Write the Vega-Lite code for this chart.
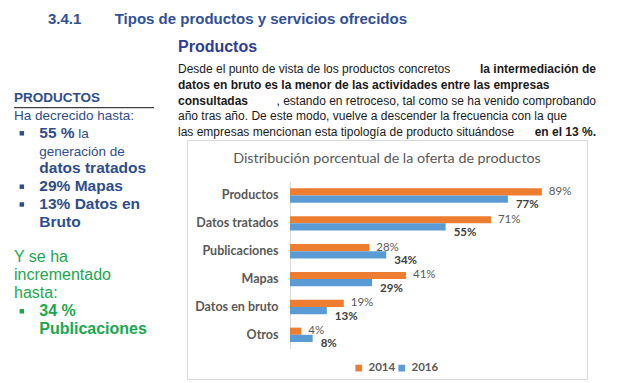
{
  "$schema": "https://vega.github.io/schema/vega-lite/v6.json",
  "background": "white",
  "padding": {"left": 13, "top": 12, "right": 0, "bottom": 0},
  "title": {
    "text": "3.4.1\u00a0\u00a0\u00a0\u00a0\u00a0\u00a0\u00a0\u00a0Tipos de productos y servicios ofrecidos",
    "anchor": "start", "frame": "group", "dx": 34,
    "fontSize": 15, "font": "Liberation Sans", "fontWeight": "bold",
    "color": "#30509c", "baseline": "alphabetic", "offset": 0
  },
  "bounds": "flush",
  "spacing": 24,
  "resolve": {"scale": {"x": "independent", "y": "independent", "color": "independent"}, "legend": {"color": "independent"}},
  "hconcat": [
    {
      "width": 140,
      "height": 290,
      "data": {"values": [
        {"linea": 0, "texto": "PRODUCTOS", "grupo": "encabezado", "col": 0, "negrita": true, "vineta": false},
        {"linea": 1, "texto": "Ha decrecido hasta:", "grupo": "decrece", "col": 0, "negrita": false, "vineta": false},
        {"linea": 2, "texto": "55 %", "grupo": "decrece", "col": 1, "negrita": true, "vineta": true},
        {"linea": 2, "texto": "la", "grupo": "decrece", "col": 2, "negrita": false, "vineta": false},
        {"linea": 3, "texto": "generación de", "grupo": "decrece", "col": 1, "negrita": false, "vineta": false},
        {"linea": 4, "texto": "datos tratados", "grupo": "decrece", "col": 1, "negrita": true, "vineta": false},
        {"linea": 5, "texto": "29% Mapas", "grupo": "decrece", "col": 1, "negrita": true, "vineta": true},
        {"linea": 6, "texto": "13% Datos en", "grupo": "decrece", "col": 1, "negrita": true, "vineta": true},
        {"linea": 7, "texto": "Bruto", "grupo": "decrece", "col": 1, "negrita": true, "vineta": false},
        {"linea": 9, "texto": "Y se ha", "grupo": "crece", "col": 0, "negrita": false, "vineta": false},
        {"linea": 10, "texto": "incrementado", "grupo": "crece", "col": 0, "negrita": false, "vineta": false},
        {"linea": 11, "texto": "hasta:", "grupo": "crece", "col": 0, "negrita": false, "vineta": false},
        {"linea": 12, "texto": "34 %", "grupo": "crece", "col": 1, "negrita": true, "vineta": true},
        {"linea": 13, "texto": "Publicaciones", "grupo": "crece", "col": 1, "negrita": true, "vineta": false}
      ]},
      "encoding": {
        "y": {"field": "linea", "type": "quantitative", "axis": null,
              "scale": {"domain": [-2.539, 13.753], "reverse": true, "nice": false, "zero": false}},
        "x": {"field": "col", "type": "quantitative", "axis": null,
              "scale": {"domain": [0, 1, 2], "range": [0, 25.3, 64.3], "nice": false, "zero": false}}
      },
      "layer": [
        {"transform": [{"filter": "datum.grupo == 'encabezado'"}],
         "mark": {"type": "text", "align": "left", "baseline": "alphabetic", "font": "Liberation Sans", "fontSize": 13.5, "fontWeight": "bold", "color": "#2e4d8e"},
         "encoding": {"text": {"field": "texto"}}},
        {"transform": [{"filter": "datum.grupo == 'decrece' && !datum.negrita"}],
         "mark": {"type": "text", "align": "left", "baseline": "alphabetic", "font": "Liberation Sans", "fontSize": 13.5, "color": "#2e4d8e"},
         "encoding": {"text": {"field": "texto"}}},
        {"transform": [{"filter": "datum.grupo == 'decrece' && datum.negrita"}],
         "mark": {"type": "text", "align": "left", "baseline": "alphabetic", "font": "Liberation Sans", "fontSize": 15.5, "fontWeight": "bold", "color": "#2e4d8e"},
         "encoding": {"text": {"field": "texto"}}},
        {"transform": [{"filter": "datum.grupo == 'crece' && !datum.negrita"}],
         "mark": {"type": "text", "align": "left", "baseline": "alphabetic", "font": "Liberation Sans", "fontSize": 16, "color": "#1aa84f"},
         "encoding": {"text": {"field": "texto"}}},
        {"transform": [{"filter": "datum.grupo == 'crece' && datum.negrita"}],
         "mark": {"type": "text", "align": "left", "baseline": "alphabetic", "font": "Liberation Sans", "fontSize": 16, "fontWeight": "bold", "color": "#1aa84f"},
         "encoding": {"text": {"field": "texto"}}},
        {"transform": [{"filter": "datum.vineta && datum.grupo == 'decrece'"}],
         "mark": {"type": "point", "shape": "square", "filled": true, "size": 20, "opacity": 1, "yOffset": -4.5, "color": "#2e4d8e"},
         "encoding": {"x": {"datum": 0.31, "type": "quantitative"}}},
        {"transform": [{"filter": "datum.vineta && datum.grupo == 'crece'"}],
         "mark": {"type": "point", "shape": "square", "filled": true, "size": 20, "opacity": 1, "yOffset": -4.5, "color": "#1aa84f"},
         "encoding": {"x": {"datum": 0.31, "type": "quantitative"}}},
        {"transform": [{"filter": "datum.grupo == 'encabezado'"}],
         "mark": {"type": "rule", "color": "#404040", "strokeWidth": 1.3},
         "encoding": {"y": {"datum": 0.31, "type": "quantitative"}, "x": null}}
      ]
    },
    {
      "vconcat": [
        {
          "width": 418,
          "height": 79,
          "title": {"text": "Productos", "anchor": "start", "frame": "group", "fontSize": 16, "font": "Liberation Sans", "fontWeight": "bold", "color": "#2f3d98", "baseline": "alphabetic", "offset": -11},
          "data": {"values": [
            {"linea": 1, "parte": 1, "texto": "Desde el punto de vista de los productos concretos", "negrita": false},
            {"linea": 1, "parte": 2, "texto": "la intermediación de", "negrita": true},
            {"linea": 2, "parte": 1, "texto": "datos en bruto es la menor de las actividades entre las empresas", "negrita": true},
            {"linea": 3, "parte": 1, "texto": "consultadas", "negrita": true},
            {"linea": 3, "parte": 2, "texto": ", estando en retroceso, tal como se ha venido comprobando", "negrita": false},
            {"linea": 4, "parte": 1, "texto": "año tras año. De este modo, vuelve a descender la frecuencia con la que", "negrita": false},
            {"linea": 5, "parte": 1, "texto": "las empresas mencionan esta tipología de producto situándose", "negrita": false},
            {"linea": 5, "parte": 2, "texto": "en el 13 %.", "negrita": true}
          ]},
          "encoding": {
            "y": {"field": "linea", "type": "quantitative", "axis": null,
                  "scale": {"domain": [0.238, 5.254], "reverse": true, "nice": false, "zero": false}},
            "x": {"field": "parte", "type": "quantitative", "axis": null,
                  "scale": {"domain": [1, 2], "nice": false, "zero": false}},
            "text": {"field": "texto"}
          },
          "layer": [
            {"transform": [{"filter": "datum.parte == 1 && !datum.negrita"}],
             "mark": {"type": "text", "align": "left", "baseline": "middle", "font": "Liberation Sans", "fontSize": 12, "color": "#1a1a1a"}},
            {"transform": [{"filter": "datum.parte == 1 && datum.negrita"}],
             "mark": {"type": "text", "align": "left", "baseline": "middle", "font": "Liberation Sans", "fontSize": 12, "fontWeight": "bold", "color": "#1a1a1a"}},
            {"transform": [{"filter": "datum.parte == 2 && !datum.negrita"}],
             "mark": {"type": "text", "align": "right", "baseline": "middle", "font": "Liberation Sans", "fontSize": 12, "color": "#1a1a1a"}},
            {"transform": [{"filter": "datum.parte == 2 && datum.negrita"}],
             "mark": {"type": "text", "align": "right", "baseline": "middle", "font": "Liberation Sans", "fontSize": 12, "fontWeight": "bold", "color": "#1a1a1a"}}
          ]
        },
        {
          "width": 400,
          "height": 239,
          "view": {"stroke": "#d9d9d9", "strokeWidth": 1},
          "title": {"text": "Distribución porcentual de la oferta de productos", "anchor": "middle", "frame": "group", "offset": -33, "baseline": "middle", "fontSize": 14.3, "font": "Lato", "fontWeight": "normal", "color": "#595959"},
          "data": {"values": [
            {"categoria": "Productos", "anio": "2014", "valor": 0.89},
            {"categoria": "Productos", "anio": "2016", "valor": 0.77},
            {"categoria": "Datos tratados", "anio": "2014", "valor": 0.71},
            {"categoria": "Datos tratados", "anio": "2016", "valor": 0.55},
            {"categoria": "Publicaciones", "anio": "2014", "valor": 0.28},
            {"categoria": "Publicaciones", "anio": "2016", "valor": 0.34},
            {"categoria": "Mapas", "anio": "2014", "valor": 0.41},
            {"categoria": "Mapas", "anio": "2016", "valor": 0.29},
            {"categoria": "Datos en bruto", "anio": "2014", "valor": 0.19},
            {"categoria": "Datos en bruto", "anio": "2016", "valor": 0.13},
            {"categoria": "Otros", "anio": "2014", "valor": 0.04},
            {"categoria": "Otros", "anio": "2016", "valor": 0.08}
          ]},
          "encoding": {
            "y": {"field": "categoria", "type": "nominal",
                  "sort": ["Productos", "Datos tratados", "Publicaciones", "Mapas", "Datos en bruto", "Otros"],
                  "scale": {"range": [41.6, 208.7], "paddingInner": 0.483, "paddingOuter": 0.24},
                  "axis": {"title": null, "offset": -103, "ticks": false, "tickSize": 0, "labelPadding": 12,
                           "domainColor": "#d9d9d9", "domainWidth": 1, "grid": false,
                           "labelFont": "Lato", "labelFontSize": 12.5, "labelFontWeight": "bold", "labelColor": "#595959"}},
            "yOffset": {"field": "anio", "type": "nominal", "sort": ["2014", "2016"]},
            "x": {"field": "valor", "type": "quantitative", "axis": null,
                  "scale": {"domain": [0, 1], "range": [103, 386], "nice": false}}
          },
          "layer": [
            {"mark": {"type": "bar"},
             "encoding": {"color": {"field": "anio", "type": "nominal",
               "scale": {"domain": ["2014", "2016"], "range": ["#ed7d31", "#5b9bd5"]},
               "legend": {"orient": "none", "legendX": 166, "legendY": 222, "direction": "horizontal", "title": null,
                          "symbolType": "square", "symbolSize": 45, "symbolStrokeWidth": 0,
                          "labelFont": "Lato", "labelFontSize": 11.5, "labelFontWeight": "bold", "labelColor": "#595959",
                          "labelOffset": 4, "columnPadding": -4}}}},
            {"transform": [{"filter": "datum.anio == '2014'"}],
             "mark": {"type": "text", "align": "left", "baseline": "middle", "dx": 7, "font": "Lato", "fontSize": 11.5, "color": "#595959"},
             "encoding": {"text": {"field": "valor", "type": "quantitative", "format": ".0%"}}},
            {"transform": [{"filter": "datum.anio == '2016'"}],
             "mark": {"type": "text", "align": "left", "baseline": "middle", "dx": 8, "dy": 6, "font": "Lato", "fontSize": 11.5, "fontWeight": "bold", "color": "#404040"},
             "encoding": {"text": {"field": "valor", "type": "quantitative", "format": ".0%"}}}
          ]
        }
      ],
      "spacing": 4,
      "center": true,
      "bounds": "flush",
      "resolve": {"scale": {"x": "independent", "y": "independent", "color": "independent"}, "legend": {"color": "independent"}}
    }
  ],
  "config": {"view": {"stroke": null}}
}
